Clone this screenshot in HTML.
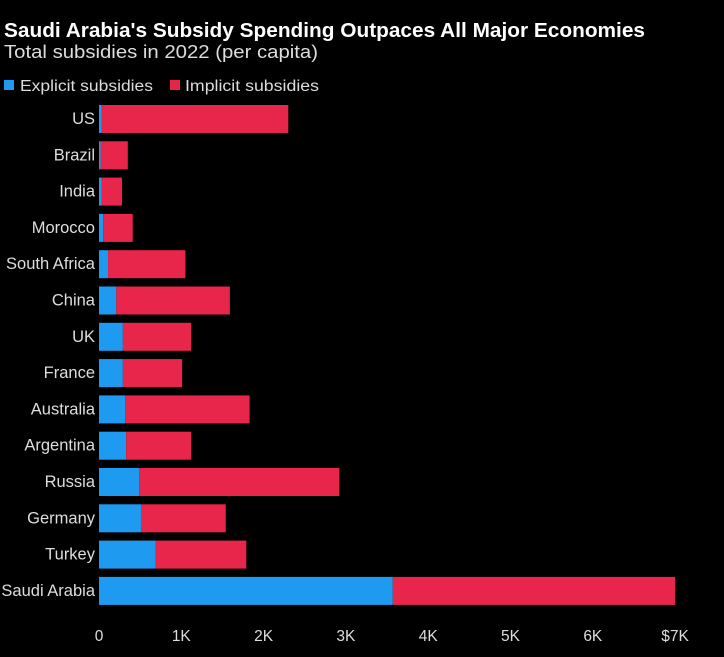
<!DOCTYPE html>
<html><head><meta charset="utf-8"><style>
body{margin:0;background:#000;width:724px;height:652px;overflow:hidden;font-family:"Liberation Sans",sans-serif;color:#fff}
</style></head><body>
<svg width="724" height="652">
<text x="4" y="37" font-size="20" font-weight="bold" fill="#fff" textLength="641" lengthAdjust="spacingAndGlyphs">Saudi Arabia's Subsidy Spending Outpaces All Major Economies</text>
<text x="4" y="58" font-size="18" fill="#ddd" textLength="314" lengthAdjust="spacingAndGlyphs">Total subsidies in 2022 (per capita)</text>
<g>
<rect x="4" y="80" width="10" height="10" fill="#1e9bf0"/>
<text x="20" y="91" font-size="15.5" fill="#ddd" textLength="133" lengthAdjust="spacingAndGlyphs">Explicit subsidies</text>
<rect x="170" y="80" width="10" height="10" fill="#e8234a"/>
<text x="185" y="91" font-size="15.5" fill="#ddd" textLength="134" lengthAdjust="spacingAndGlyphs">Implicit subsidies</text>
</g>
<g id="plot"></g>
</svg>
<script>
const countries=["US","Brazil","India","Morocco","South Africa","China","UK","France","Australia","Argentina","Russia","Germany","Turkey","Saudi Arabia"];
const explicitVals=[0.03,0.02,0.03,0.05,0.11,0.21,0.29,0.29,0.32,0.33,0.49,0.51,0.69,3.57];
const totalVals=[2.30,0.35,0.28,0.41,1.05,1.59,1.12,1.01,1.83,1.12,2.92,1.54,1.79,7.0];
const tickVals=[0,1,2,3,4,5,6,7];
const tickLabels=["0","1K","2K","3K","4K","5K","6K","$7K"];
const NS="http://www.w3.org/2000/svg";
const g=document.getElementById("plot");
const x=v=>99+v*82.3;
const y=i=>119+i*36.3;
const bh=28;
function mk(t,a){const e=document.createElementNS(NS,t);for(const k in a)e.setAttribute(k,a[k]);g.appendChild(e);return e;}
countries.forEach((c,i)=>{
  const r1=mk("rect",{x:x(0),y:y(i)-bh/2,width:x(explicitVals[i])-x(0),height:bh,fill:"#1e9bf0"});
  
  
  const r2=mk("rect",{x:x(explicitVals[i]),y:y(i)-bh/2,width:x(totalVals[i])-x(explicitVals[i]),height:bh,fill:"#e8264b"});
  
  
  const t=mk("text",{x:95,y:y(i)+5,"font-size":16.5,fill:"#ddd","text-anchor":"end"});
  t.textContent=c;
  
  
});
tickVals.forEach((v,i)=>{
  const t=mk("text",{x:x(v),y:641,"font-size":15.5,fill:"#ddd","text-anchor":"middle"});
  t.textContent=tickLabels[i];
  
  
});
</script>
</body></html>
